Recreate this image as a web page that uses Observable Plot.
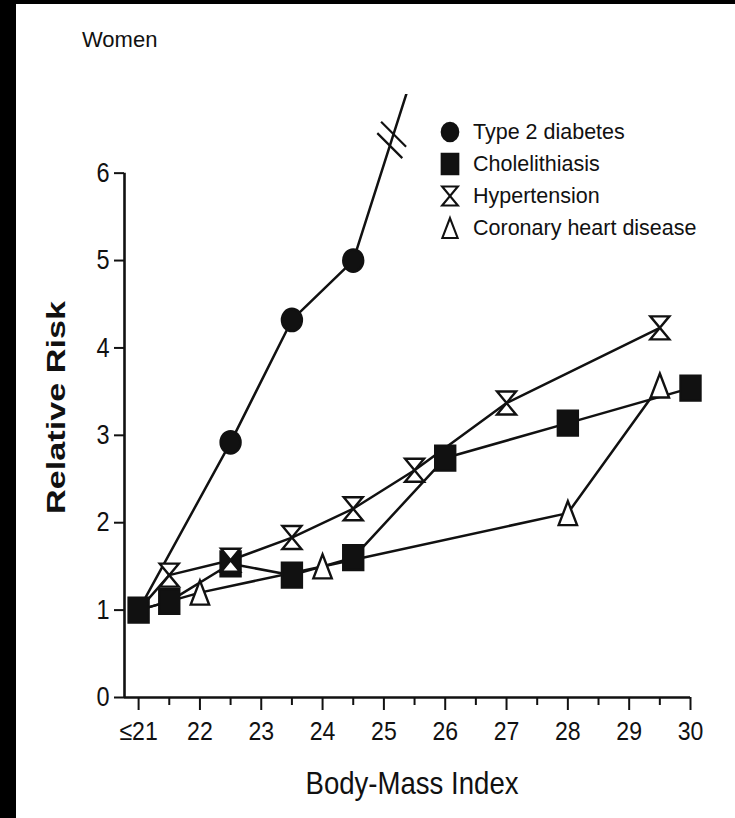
<!DOCTYPE html>
<html><head><meta charset="utf-8">
<script src="https://cdn.jsdelivr.net/npm/d3@7"></script>
<script src="https://cdn.jsdelivr.net/npm/@observablehq/plot@0.6"></script>
<style>
body{margin:0;background:#000;}
#page{position:relative;width:735px;height:818px;background:#000;overflow:hidden;}
#panel{position:absolute;left:16px;top:4px;width:719px;height:814px;background:#fff;}
#chart{position:absolute;left:0;top:0;}
#title{position:absolute;left:66px;top:25px;font-size:22px;line-height:22px;font-family:"Liberation Sans",Arial,sans-serif;color:#111;white-space:nowrap;}
.lg-sym{position:absolute;width:24px;height:28px;}
.lg-txt{position:absolute;font-size:21.5px;line-height:21.5px;font-family:"Liberation Sans",Arial,sans-serif;color:#111;white-space:nowrap;}
</style></head>
<body>
<div id="page"><div id="panel"><div id="chart"></div><div id="title">Women</div><div id="legend"></div></div></div>
<script>
// ---- data ----
const seriesNames = ["Type 2 diabetes", "Cholelithiasis", "Hypertension", "Coronary heart disease"];
const bmiDiabetes = [21, 22.5, 23.5, 24.5, 25.5];
const rrDiabetes  = [1.0, 2.92, 4.32, 5.0, 7.2];
const bmiChole = [21, 21.5, 22.5, 23.5, 24.5, 26, 28, 30];
const rrChole  = [1.0, 1.1, 1.53, 1.4, 1.6, 2.74, 3.14, 3.54];
const bmiHtn = [21, 21.5, 22.5, 23.5, 24.5, 25.5, 27, 29.5];
const rrHtn  = [1.0, 1.4, 1.57, 1.83, 2.16, 2.6, 3.37, 4.23];
const bmiChd = [21, 22, 24, 28, 29.5];
const rrChd  = [1.0, 1.2, 1.5, 2.11, 3.57];
const xTicks = [21, 22, 23, 24, 25, 26, 27, 28, 29, 30];
const xTickLabels = ["≤21", "22", "23", "24", "25", "26", "27", "28", "29", "30"];
const xMinorTicks = [21.5, 22.5, 23.5, 24.5, 25.5, 26.5, 27.5, 28.5, 29.5];
const yTicks = [0, 1, 2, 3, 4, 5, 6];
const yAxisTop = 6;
const breakValue = 6.38;

// ---- custom symbols (r = sqrt(size/pi)) ----
const rOf = size => Math.sqrt(size / Math.PI);
const ovalSym = {draw(c, size){const r=rOf(size), rx=r, ry=r*1.12, k=0.5523;
  c.moveTo(rx,0); c.bezierCurveTo(rx,ry*k,rx*k,ry,0,ry); c.bezierCurveTo(-rx*k,ry,-rx,ry*k,-rx,0);
  c.bezierCurveTo(-rx,-ry*k,-rx*k,-ry,0,-ry); c.bezierCurveTo(rx*k,-ry,rx,-ry*k,rx,0); c.closePath();}};
const boxSym = {draw(c, size){const r=rOf(size), w=r, h=r*1.24;
  c.moveTo(-w,-h); c.lineTo(w,-h); c.lineTo(w,h); c.lineTo(-w,h); c.closePath();}};
const glassSym = {draw(c, size){const r=rOf(size), w=r*0.95, h=r*1.15;
  c.moveTo(-w,-h); c.lineTo(w,-h); c.lineTo(-w,h); c.lineTo(w,h); c.closePath();}};
const triSym = {draw(c, size){const r=rOf(size), w=r*0.92, h=r*1.2;
  c.moveTo(0,-h); c.lineTo(w,h); c.lineTo(-w,h); c.closePath();}};
const breakSym = {draw(c){const L=12.5;
  [[1.9,-5.7],[-1.9,5.7]].forEach(([ox,oy])=>{c.moveTo(ox-L,oy-L); c.lineTo(ox+L,oy+L);});}};

const symbols = [ovalSym, boxSym, glassSym, triSym];
const fills = ["#111", "#111", "#fff", "#fff"];
const bmis = [bmiDiabetes, bmiChole, bmiHtn, bmiChd];
const rrs = [rrDiabetes, rrChole, rrHtn, rrChd];
const series = seriesNames.map((name, i) => bmis[i].map((b, j) => ({series: name, bmi: b, rr: rrs[i][j]})));
const allRows = series.flat();

// break point on the diabetes segment that leaves the chart
const n = bmiDiabetes.length;
const t = (breakValue - rrDiabetes[n-2]) / (rrDiabetes[n-1] - rrDiabetes[n-2]);
const breakPt = [{bmi: bmiDiabetes[n-2] + t * (bmiDiabetes[n-1] - bmiDiabetes[n-2]), rr: breakValue}];

const xMin = 20.77, xMax = 30, yMax = 6.9;
const INK = "#111";

// the shared reference point (≤21, 1.0) is drawn once, as the square
const dotMark = i => Plot.dot(i === 1 ? series[i] : series[i].slice(1), {
  x: "bmi", y: "rr", symbol: symbols[i], r: 10, fill: fills[i], stroke: INK, strokeWidth: 2.4,
  filter: d => d.rr <= yMax});

const chart = Plot.plot({
  width: 719, height: 814,
  marginLeft: 108, marginRight: 45, marginTop: 90, marginBottom: 121,
  x: {domain: [xMin, xMax]},
  y: {domain: [0, yMax]},
  style: {fontFamily: "'Liberation Sans',Arial,sans-serif", background: "transparent", color: INK},
  marks: [
    Plot.axisY({ticks: yTicks, tickSize: 10, tickPadding: 5, fontSize: 27, strokeWidth: 2, label: null, tickFormat: d => String(d), className: "tk"}),
    Plot.axisX({ticks: xTicks, tickSize: 13, tickPadding: 11, fontSize: 26.5, strokeWidth: 2, label: null,
      tickFormat: d => xTickLabels[xTicks.indexOf(d)], className: "tk"}),
    Plot.axisX({ticks: xMinorTicks, tickSize: 8, strokeWidth: 2, label: null, tickFormat: () => ""}),
    Plot.ruleX([xMin], {y1: 0, y2: yAxisTop, stroke: INK, strokeWidth: 2.6}),
    Plot.ruleY([0], {x1: xMin, x2: xMax, stroke: INK, strokeWidth: 2.6}),
    Plot.line(allRows, {x: "bmi", y: "rr", z: "series", stroke: INK, strokeWidth: 2.5, clip: true}),
    dotMark(0), dotMark(3), dotMark(1), dotMark(2),
    Plot.dot(breakPt, {x: "bmi", y: "rr", symbol: breakSym, r: 10, fill: "none", stroke: INK, strokeWidth: 2.2}),
    Plot.text(["Relative Risk"], {text: d => d, frameAnchor: "left", rotate: -90, dx: -68, dy: 11.5, fontSize: 26,
      fontWeight: "bold", textAnchor: "middle", lineAnchor: "middle", className: "ylab"}),
    Plot.text(["Body-Mass Index"], {text: d => d, frameAnchor: "bottom", dx: 4.5, dy: 86.5, fontSize: 32,
      textAnchor: "middle", lineAnchor: "middle", className: "xlab"})
  ]
});
document.getElementById("chart").appendChild(chart);
d3.select(chart).selectAll(".ylab text").attr("textLength", 213).attr("lengthAdjust", "spacingAndGlyphs");
d3.select(chart).selectAll(".xlab text").attr("textLength", 213).attr("lengthAdjust", "spacingAndGlyphs");
// condensed look of the scanned tick labels
d3.select(chart).selectAll(".tk text").each(function() {
  const L = this.getComputedTextLength();
  if (L > 0) d3.select(this).attr("textLength", L * 0.87).attr("lengthAdjust", "spacingAndGlyphs");
});

// ---- legend (overlay) ----
const legend = document.getElementById("legend");
const legendTop = 128, legendStep = 32, legendSymX = 434, legendTextX = 457;
seriesNames.forEach((name, i) => {
  const cy = legendTop + i * legendStep;
  const svg = d3.create("svg").attr("class", "lg-sym").attr("width", 24).attr("height", 28)
    .style("left", (legendSymX - 12) + "px").style("top", (cy - 14) + "px");
  svg.append("path").attr("transform", "translate(12,14)")
    .attr("d", d3.symbol(symbols[i], Math.PI * 8.3 * 8.3)())
    .attr("fill", fills[i]).attr("stroke", INK).attr("stroke-width", 2.1);
  legend.appendChild(svg.node());
  const tx = document.createElement("div");
  tx.className = "lg-txt"; tx.textContent = name;
  tx.style.left = legendTextX + "px"; tx.style.top = (cy - 10.5) + "px";
  legend.appendChild(tx);
});
</script>
</body></html>
